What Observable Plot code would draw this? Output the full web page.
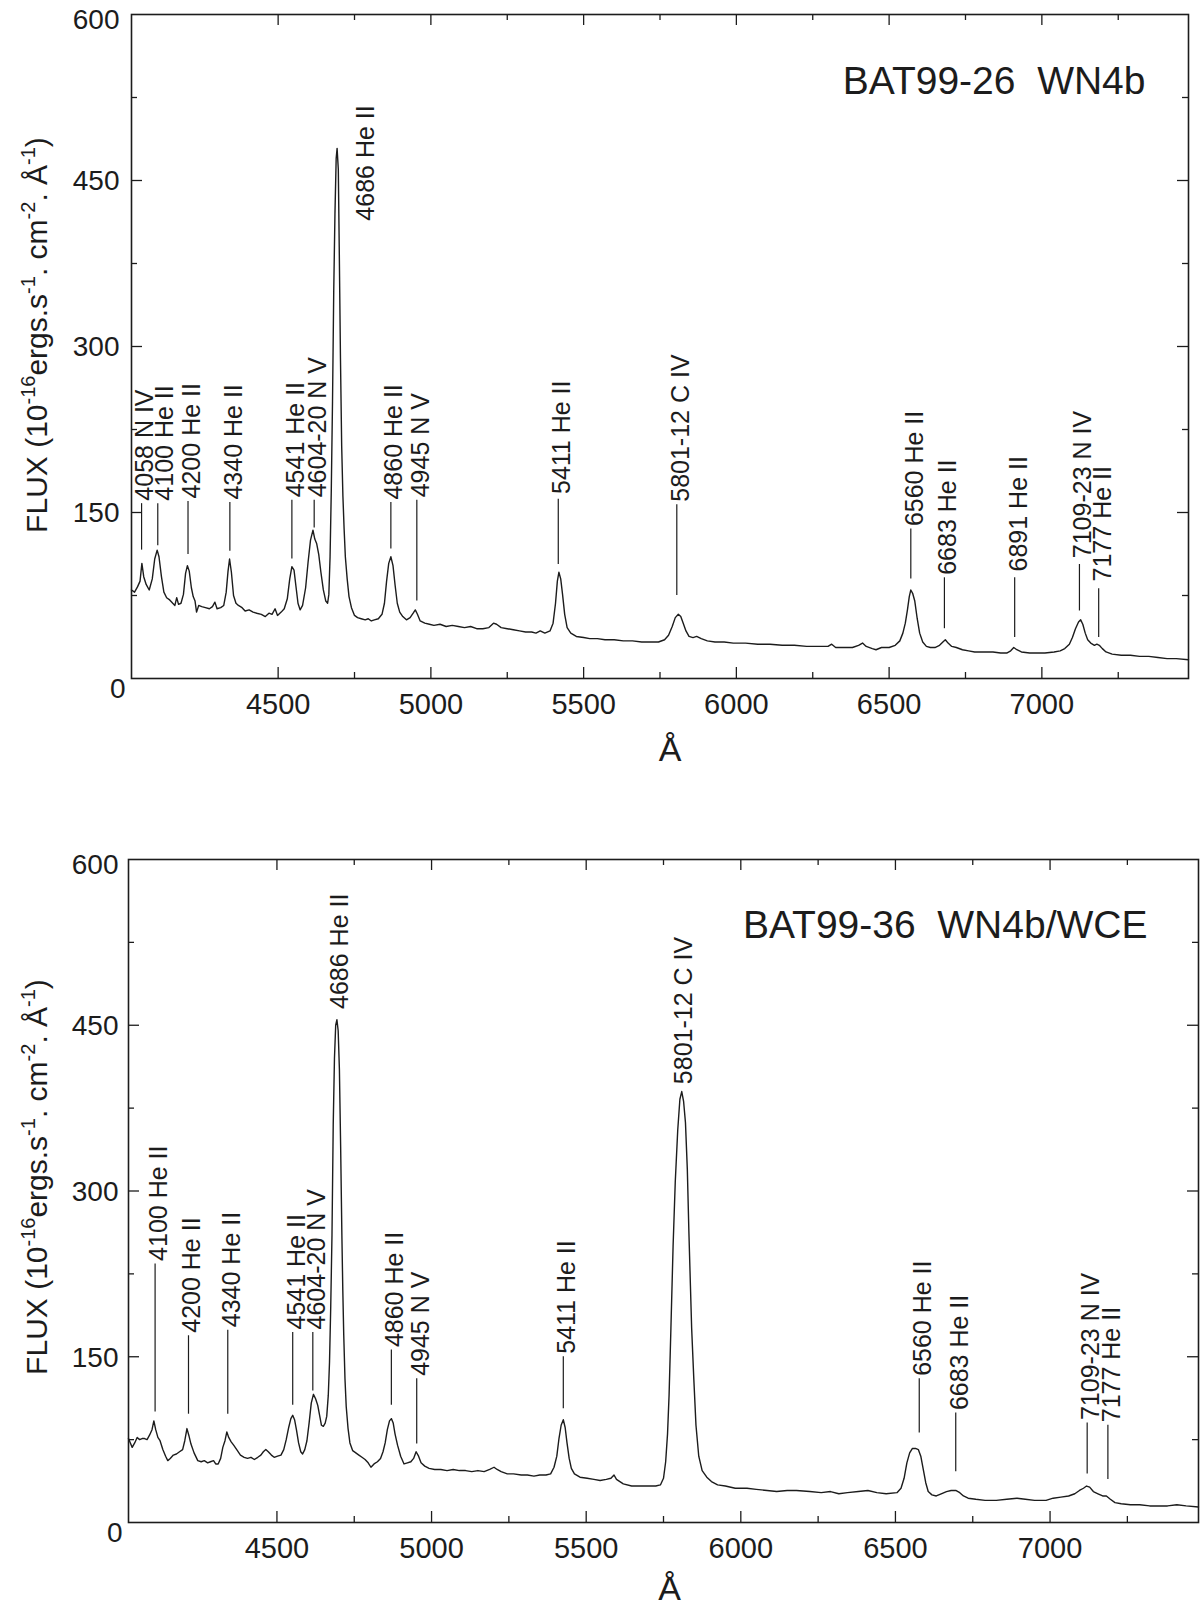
<!DOCTYPE html>
<html>
<head>
<meta charset="utf-8">
<script src="https://cdn.jsdelivr.net/npm/d3@7"></script>
<script src="https://cdn.jsdelivr.net/npm/@observablehq/plot@0.6"></script>
<style>
  html, body { margin: 0; padding: 0; background: #fff; }
  #chart svg { display: block; }
  #chart svg text { white-space: pre; }
</style>
</head>
<body>
<div id="chart"></div>
<script>
// ---------- data ----------
const xDomain = [4020, 7480];
const yDomain = [0, 600];
const xMajorTicks = [4500, 5000, 5500, 6000, 6500, 7000];
const xMinorTicks = [4750, 5250, 5750, 6250, 6750, 7250];
const yMajorTicks = [150, 300, 450];
const yMinorTicks = [75, 225, 375, 525];
const xAxisLabel = "Å";
const topTitle = "BAT99-26  WN4b";
const bottomTitle = "BAT99-36  WN4b/WCE";

// BAT99-26 spectrum [wavelength Å, flux]
const topSpectrum = [
[4020,80],[4030,78],[4040,83],[4048,88],[4054,104],[4060,92],[4068,85],[4078,80],[4088,90],[4096,108],[4104,116],[4110,110],[4118,92],[4126,78],[4135,73],[4145,71],[4155,68],[4162,66],[4168,73],[4174,67],[4182,68],[4190,76],[4197,95],[4203,102],[4209,97],[4216,82],[4222,74],[4228,70],[4233,60],[4240,66],[4250,65],[4262,64],[4275,63],[4285,65],[4293,69],[4300,63],[4312,64],[4322,66],[4330,78],[4336,97],[4341,108],[4347,96],[4354,75],[4362,68],[4370,66],[4382,64],[4392,61],[4405,62],[4418,60],[4430,59],[4445,58],[4458,56],[4470,59],[4480,58],[4490,63],[4498,57],[4510,60],[4520,63],[4530,72],[4538,90],[4545,101],[4552,98],[4558,84],[4565,68],[4572,62],[4580,66],[4590,82],[4598,105],[4606,125],[4614,134],[4620,126],[4626,122],[4633,112],[4640,96],[4648,80],[4656,70],[4662,68],[4666,76],[4670,110],[4674,170],[4678,250],[4682,350],[4686,420],[4690,470],[4693,479],[4697,460],[4700,390],[4704,290],[4708,210],[4712,165],[4716,135],[4720,110],[4726,90],[4732,74],[4740,64],[4750,57],[4760,55],[4772,54],[4785,53],[4795,54],[4805,52],[4815,53],[4828,54],[4840,58],[4848,68],[4855,88],[4862,104],[4869,110],[4876,102],[4883,84],[4890,68],[4898,60],[4908,56],[4920,53],[4932,55],[4942,59],[4949,62],[4956,58],[4965,52],[4980,50],[4995,49],[5010,48],[5030,49],[5050,47],[5070,48],[5090,47],[5110,46],[5130,47],[5150,45],[5170,45],[5190,46],[5205,50],[5215,49],[5230,46],[5250,45],[5270,44],[5290,43],[5310,42],[5330,42],[5344,41],[5358,43],[5373,41],[5390,43],[5400,50],[5408,68],[5414,88],[5419,96],[5425,90],[5431,76],[5438,58],[5446,46],[5458,41],[5476,38],[5500,37],[5520,36],[5545,36],[5570,35],[5600,35],[5630,34],[5660,34],[5690,33],[5720,33],[5745,33],[5765,35],[5778,39],[5790,47],[5800,55],[5810,58],[5818,56],[5826,50],[5835,43],[5845,38],[5858,37],[5870,38],[5885,36],[5905,34],[5930,33],[5960,33],[5990,32],[6030,32],[6070,31],[6110,31],[6150,30],[6190,30],[6230,29],[6270,29],[6300,29],[6312,31],[6325,28],[6350,28],[6380,28],[6400,30],[6413,32],[6425,29],[6445,27],[6457,26],[6475,28],[6500,28],[6520,30],[6535,34],[6545,41],[6553,50],[6560,62],[6566,74],[6571,80],[6577,77],[6584,70],[6592,54],[6600,41],[6610,33],[6622,29],[6635,28],[6650,28],[6665,30],[6676,33],[6684,35],[6693,32],[6705,29],[6720,28],[6740,26],[6760,25],[6780,24],[6810,24],[6840,24],[6865,23],[6885,23],[6898,25],[6908,28],[6918,26],[6933,24],[6960,23],[6985,23],[7010,23],[7040,24],[7060,25],[7075,27],[7090,31],[7100,37],[7110,45],[7120,51],[7127,53],[7134,49],[7142,41],[7150,35],[7160,32],[7172,30],[7180,31],[7188,30],[7198,27],[7210,24],[7230,22],[7260,21],[7290,21],[7320,20],[7350,20],[7380,19],[7410,18],[7440,18],[7480,17]
];

// BAT99-36 spectrum [wavelength Å, flux]
const bottomSpectrum = [
[4020,76],[4026,72],[4032,68],[4040,72],[4048,77],[4056,75],[4064,76],[4072,76],[4080,75],[4088,79],[4096,84],[4102,92],[4108,84],[4115,77],[4122,74],[4131,66],[4140,60],[4147,56],[4155,58],[4165,61],[4175,62],[4185,64],[4195,66],[4202,74],[4209,85],[4215,79],[4222,71],[4232,63],[4244,56],[4255,55],[4265,56],[4276,54],[4285,55],[4295,56],[4302,53],[4310,53],[4318,58],[4325,68],[4332,74],[4338,82],[4344,77],[4352,73],[4360,70],[4370,66],[4382,61],[4394,59],[4405,58],[4416,59],[4427,57],[4438,59],[4448,61],[4456,64],[4464,66],[4472,64],[4482,61],[4491,59],[4502,60],[4513,61],[4522,66],[4530,75],[4538,86],[4545,94],[4551,97],[4557,93],[4563,84],[4570,72],[4577,64],[4583,62],[4590,66],[4597,74],[4604,90],[4611,108],[4618,116],[4625,112],[4632,106],[4638,97],[4644,88],[4650,87],[4656,90],[4661,96],[4666,115],[4670,145],[4674,196],[4678,260],[4682,360],[4686,420],[4690,450],[4694,455],[4698,445],[4702,410],[4706,340],[4710,260],[4713,210],[4716,170],[4720,130],[4724,105],[4730,85],[4736,72],[4745,65],[4755,63],[4765,61],[4775,59],[4785,57],[4795,54],[4804,50],[4814,53],[4825,55],[4835,58],[4843,64],[4850,72],[4857,84],[4864,92],[4870,94],[4876,90],[4882,80],[4890,70],[4900,60],[4911,53],[4922,54],[4933,55],[4942,58],[4950,64],[4958,60],[4966,54],[4978,51],[4992,49],[5010,48],[5030,48],[5050,47],[5070,48],[5090,47],[5110,47],[5130,46],[5150,47],[5170,46],[5188,48],[5202,50],[5212,48],[5225,46],[5245,44],[5265,44],[5290,43],[5310,43],[5331,42],[5350,43],[5370,43],[5385,44],[5396,50],[5405,60],[5412,76],[5419,88],[5426,93],[5432,86],[5438,72],[5445,58],[5452,49],[5462,44],[5480,41],[5503,40],[5525,39],[5545,38],[5565,39],[5580,40],[5590,43],[5598,39],[5620,35],[5647,33],[5675,33],[5700,33],[5725,33],[5740,34],[5750,40],[5757,55],[5763,80],[5768,115],[5774,176],[5781,250],[5788,308],[5796,355],[5803,383],[5809,390],[5815,381],[5821,362],[5827,320],[5832,264],[5837,215],[5841,176],[5848,130],[5855,88],[5864,60],[5875,47],[5890,41],[5905,37],[5925,34],[5950,33],[5982,31],[6020,31],[6050,30],[6085,29],[6116,28],[6150,29],[6180,29],[6223,28],[6260,27],[6290,28],[6317,26],[6345,27],[6380,28],[6411,29],[6440,27],[6470,26],[6505,27],[6518,31],[6528,40],[6537,54],[6546,63],[6555,67],[6565,67],[6574,66],[6582,60],[6590,48],[6598,36],[6606,28],[6618,25],[6632,24],[6648,26],[6665,28],[6680,29],[6695,29],[6708,27],[6720,24],[6735,22],[6760,21],[6790,20],[6826,20],[6860,21],[6893,22],[6920,21],[6950,20],[6987,20],[7010,22],[7035,23],[7060,24],[7080,26],[7095,29],[7108,31],[7118,33],[7128,32],[7140,28],[7155,26],[7170,24],[7182,24],[7195,21],[7210,18],[7230,17],[7260,16],[7290,16],[7322,15],[7350,15],[7380,15],[7410,16],[7440,15],[7480,14]
];

// line identifications, top panel
const topLabelText  = ["4058 N IV","4100 He II","4200 He II","4340 He II","4541 He II","4604-20 N V","4686 He II","4860 He II","4945 N V","5411 He II","5801-12 C IV","6560 He II","6683 He II","6891 He II","7109-23 N IV","7177 He II"];
const topLineWave   = [4053,4106,4205,4342,4545,4618,null,4869,4954,5417,5805,6571,6681,6911,7123,7186];
const topTextWave   = [4050,4116,4205,4342,4545,4618,4776,4866,4954,5417,5805,6571,6681,6911,7123,7188];
const topLineLow    = [116,120,112,115,108,136,null,117,70,103,75,90,45,37,61,37];
const topLineHigh   = [158,158,160,159,161,161,null,159,161,162,157,135,91,91,103,81];
const topTextStart  = [158,158,160,159,161,161,411,159,161,164,157,135,91,94,106,85];

// line identifications, bottom panel
const bottomLabelText = ["4100 He II","4200 He II","4340 He II","4541 He II","4604-20 N V","4686 He II","4860 He II","4945 N V","5411 He II","5801-12 C IV","6560 He II","6683 He II","7109-23 N IV","7177 He II"];
const bottomLineWave  = [4106,4214,4341,4551,4616,null,4870,4952,5426,null,6577,6695,7120,7187];
const bottomTextWave  = [4106,4214,4341,4551,4616,4690,4870,4952,5426,5804,6577,6695,7120,7187];
const bottomLineLow   = [100,98,98,106,119,null,106,71,103,null,81,46,44,39];
const bottomLineHigh  = [234,169,174,172,172,null,156,130,150,null,130,99,90,88];
const bottomTextStart = [234,169,174,172,172,462,156,130,150,394,130,99,90,88];

// ---------- drawing ----------
const FONT = "'Liberation Sans', Arial, Helvetica, sans-serif";
const INK = "#1c1c1c";
const W = 1203;

function labelTable(text, lineWave, textWave, low, high, start) {
  return text.map((t, i) => ({text: t, lineWave: lineWave[i], textWave: textWave[i], low: low[i], high: high[i], start: start[i]}));
}

function panel(cfg) {
  const {spectrum, labels, title, height, mt, mb, ml, mr, titleDx, titleDy, aDx, aDy, yLabelY, tickPad} = cfg;
  const iw = W - ml - mr, ih = height - mt - mb;
  const lines = labels.filter(d => d.low != null && d.lineWave != null);
  const fmt = d => String(d);
  const svg = Plot.plot({
    width: W, height,
    marginTop: mt, marginBottom: mb, marginLeft: ml, marginRight: mr,
    style: {fontFamily: FONT, background: "#fff", color: INK, overflow: "visible"},
    x: {domain: xDomain, axis: null, label: null},
    y: {domain: yDomain, axis: null, label: null},
    marks: [
      // inward ticks, bottom / top
      Plot.ruleX(xMajorTicks, {stroke: INK, strokeWidth: 1.3, insetTop: ih - 11}),
      Plot.ruleX(xMinorTicks, {stroke: INK, strokeWidth: 1.3, insetTop: ih - 6}),
      Plot.ruleX(xMajorTicks, {stroke: INK, strokeWidth: 1.3, insetBottom: ih - 11}),
      Plot.ruleX(xMinorTicks, {stroke: INK, strokeWidth: 1.3, insetBottom: ih - 6}),
      // inward ticks, left / right
      Plot.ruleY(yMajorTicks, {stroke: INK, strokeWidth: 1.3, insetRight: iw - 11}),
      Plot.ruleY(yMinorTicks, {stroke: INK, strokeWidth: 1.3, insetRight: iw - 6}),
      Plot.ruleY(yMajorTicks, {stroke: INK, strokeWidth: 1.3, insetLeft: iw - 11}),
      Plot.ruleY(yMinorTicks, {stroke: INK, strokeWidth: 1.3, insetLeft: iw - 6}),
      // spectrum
      Plot.line(spectrum, {x: d => d[0], y: d => d[1], stroke: INK, strokeWidth: 1.4}),
      // identification lines and labels
      Plot.ruleX(lines, {x: "lineWave", y1: "low", y2: "high", stroke: INK, strokeWidth: 1.2}),
      Plot.text(labels, {x: "textWave", y: "start", text: "text", rotate: -90, textAnchor: "start", lineAnchor: "middle", fontSize: 25, dx: 4, dy: -3, fill: INK}),
      // title
      Plot.text([title], {text: d => d, frameAnchor: "top-right", textAnchor: "end", lineAnchor: "bottom", dx: titleDx, dy: titleDy, fontSize: 39, fill: INK}),
      // tick labels
      Plot.axisX(xMajorTicks, {anchor: "bottom", label: null, tickSize: 0, tickPadding: 15, fontSize: 29, tickFormat: fmt, fill: INK}),
      Plot.axisY(yMajorTicks, {anchor: "left", label: null, tickSize: 0, tickPadding: tickPad, fontSize: 28, tickFormat: fmt, dy: 1, fill: INK}),
      Plot.axisY([600], {anchor: "left", label: null, tickSize: 0, tickPadding: tickPad, fontSize: 28, tickFormat: fmt, dy: 6, fill: INK}),
      Plot.axisY([0], {anchor: "left", label: null, tickSize: 0, tickPadding: 6, fontSize: 28, tickFormat: fmt, dy: 11, fill: INK}),
      // x axis label
      Plot.text([xAxisLabel], {text: d => d, frameAnchor: "bottom", lineAnchor: "bottom", dx: aDx, dy: aDy, fontSize: 34, fill: INK}),
      Plot.frame({stroke: INK, strokeWidth: 1.6})
    ]
  });
  // y-axis title with superscripts
  const t = d3.select(svg).append("text")
    .attr("transform", `translate(47,${yLabelY}) rotate(-90)`)
    .attr("text-anchor", "middle")
    .attr("font-family", FONT)
    .attr("font-size", 30)
    .attr("fill", INK);
  const parts = [["FLUX (10", false], ["-16", true], ["ergs.s", false], ["-1", true], [". cm", false], ["-2", true], [". Å", false], ["-1", true], [")", false]];
  parts.forEach(([s, sup], i) => {
    const sp = t.append("tspan").text(s);
    if (sup) sp.attr("dy", -12).attr("font-size", 20);
    else if (i > 0) sp.attr("dy", 12);
  });
  return svg;
}

const topSvg = panel({
  spectrum: topSpectrum,
  labels: labelTable(topLabelText, topLineWave, topTextWave, topLineLow, topLineHigh, topTextStart),
  title: topTitle,
  height: 800, mt: 14, mb: 122, ml: 131, mr: 15,
  titleDx: -43, titleDy: 79, aDx: 10, aDy: 82, yLabelY: 335, tickPad: 12
});
const bottomSvg = panel({
  spectrum: bottomSpectrum,
  labels: labelTable(bottomLabelText, bottomLineWave, bottomTextWave, bottomLineLow, bottomLineHigh, bottomTextStart),
  title: bottomTitle,
  height: 804, mt: 59, mb: 82, ml: 128, mr: 5,
  titleDx: -51, titleDy: 78, aDx: 6, aDy: 77, yLabelY: 377, tickPad: 10
});
document.getElementById("chart").append(topSvg, bottomSvg);
</script>
</body>
</html>
